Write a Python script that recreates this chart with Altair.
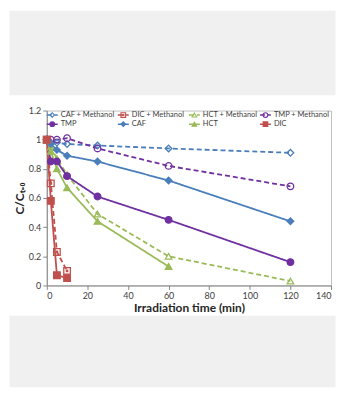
import altair as alt
import pandas as pd

# ---- data ----
times = [0, 2, 5, 10, 25, 60, 120]
times_dic = [0, 2, 5, 10]
times_hct = [0, 2, 5, 10, 25, 60]

caf_methanol = [1.0, 0.98, 0.98, 0.97, 0.96, 0.94, 0.91]
dic_methanol = [1.0, 0.70, 0.23, 0.10]
hct_methanol = [1.0, 0.95, 0.87, 0.76, 0.49, 0.20, 0.03]
tmp_methanol = [1.0, 1.0, 1.0, 1.01, 0.94, 0.82, 0.68]
tmp = [1.0, 0.85, 0.85, 0.75, 0.61, 0.45, 0.16]
caf = [1.0, 0.97, 0.93, 0.89, 0.85, 0.72, 0.44]
hct = [1.0, 0.92, 0.80, 0.67, 0.44, 0.13]
dic = [1.0, 0.58, 0.07, 0.05]

series_names = ["CAF + Methanol", "DIC + Methanol", "HCT + Methanol", "TMP + Methanol",
                "TMP", "CAF", "HCT", "DIC"]
series_colors = ["#4A7EBB", "#C0504D", "#9BBB59", "#7030A0",
                 "#7030A0", "#4A7EBB", "#9BBB59", "#C0504D"]
sq_dot = "M-1,-1H1V1H-1Z M-0.2,-0.2H0.2V0.2H-0.2Z"
series_shapes = ["diamond", sq_dot, "triangle-up", "circle",
                 "circle", "diamond", "triangle-up", "square"]
series_fills = ["transparent", "transparent", "transparent", "transparent",
                "#7030A0", "#4A7EBB", "#9BBB59", "#C0504D"]
series_dash = [[5, 3], [5, 3], [5, 3], [5, 3], [1, 0], [1, 0], [1, 0], [1, 0]]
legend_col = [0, 1, 2, 3, 0, 1, 2, 3]
legend_row = [0, 0, 0, 0, 1, 1, 1, 1]
x_ticks = [0, 20, 40, 60, 80, 100, 120, 140]
y_ticks = [0, 0.2, 0.4, 0.6, 0.8, 1.0, 1.2]

series_data = [
    ("CAF + Methanol", times, caf_methanol),
    ("DIC + Methanol", times_dic, dic_methanol),
    ("HCT + Methanol", times, hct_methanol),
    ("TMP + Methanol", times, tmp_methanol),
    ("TMP", times, tmp),
    ("CAF", times, caf),
    ("HCT", times_hct, hct),
    ("DIC", times_dic, dic),
]

rows = []
for name, ts, vs in series_data:
    for t, v in zip(ts, vs):
        rows.append({"series": name, "t": t, "v": v})
df = pd.DataFrame(rows)

legend_df = pd.DataFrame({"series": series_names, "col": legend_col, "row": legend_row})

FONT = "Lato"

color_enc = alt.Color("series:N", scale=alt.Scale(domain=series_names, range=series_colors), legend=None)
dash_enc = alt.StrokeDash("series:N", scale=alt.Scale(domain=series_names, range=series_dash), legend=None)
shape_enc = alt.Shape("series:N", scale=alt.Scale(domain=series_names, range=series_shapes), legend=None)
fill_enc = alt.Fill("series:N", scale=alt.Scale(domain=series_names, range=series_fills), legend=None)

x_scale = alt.Scale(domain=[0, 140], nice=False, zero=False)
y_scale = alt.Scale(domain=[0, 1.2], nice=False)


def x_enc():
    return alt.X("t:Q", scale=x_scale,
                 axis=alt.Axis(values=x_ticks, title="Irradiation time (min)", labelOverlap=False))


def y_enc():
    return alt.Y("v:Q", scale=y_scale,
                 axis=alt.Axis(values=y_ticks, format=".1~f", title="C/Cₜ₌₀",
                               labelOverlap=False, labelSeparation=0))


base = alt.Chart(df)

lines = base.mark_line(strokeWidth=1.8).encode(
    x=x_enc(), y=y_enc(),
    color=color_enc,
    strokeDash=dash_enc,
    detail="series:N",
)

points = base.mark_point(size=44, strokeWidth=1.3, opacity=1).encode(
    x=x_enc(), y=y_enc(),
    color=color_enc,
    shape=shape_enc,
    fill=fill_enc,
)

plot = alt.layer(lines, points)

lx = alt.Scale(domain=[0, 4])
ly = alt.Scale(domain=[0, 19], reverse=True)
lbase = alt.Chart(legend_df)
leg_rules = lbase.mark_rule(strokeWidth=1.6, x2Offset=11, yOffset=4.5).encode(
    x=alt.X("col:Q", scale=lx, axis=None),
    x2="col:Q",
    y=alt.Y("row:Q", scale=ly, axis=None),
    color=color_enc,
    strokeDash=dash_enc,
)
leg_points = lbase.mark_point(size=22, strokeWidth=1.1, opacity=1, xOffset=5.5, yOffset=4.5).encode(
    x=alt.X("col:Q", scale=lx, axis=None),
    y=alt.Y("row:Q", scale=ly, axis=None),
    color=color_enc,
    shape=shape_enc,
    fill=fill_enc,
)
leg_text = lbase.mark_text(align="left", baseline="middle", dx=14, yOffset=4.5,
                           fontSize=7.5, font=FONT, color="#404040").encode(
    x=alt.X("col:Q", scale=lx, axis=None),
    y=alt.Y("row:Q", scale=ly, axis=None),
    text="series:N",
)
legend = alt.layer(leg_rules, leg_points, leg_text)

main = alt.layer(plot, legend).resolve_scale(x="independent", y="independent").properties(
    width=286, height=176,
    title=alt.TitleParams(" ", fontSize=8, offset=2),
    view=alt.ViewBackground(fill="white", stroke="#BFBFBF", strokeWidth=1),
)

dummy = pd.DataFrame({"z": [0]})


def blank(w, h, fill):
    return alt.Chart(dummy).mark_point(opacity=0, size=0).encode(
        x=alt.value(w / 2), y=alt.value(h / 2)
    ).properties(width=w, height=h, view=alt.ViewBackground(fill=fill, stroke="transparent"))


top = blank(328, 85, "#F0F0F0")
spacer = blank(2, 176, "white")
bottom = blank(328, 72, "#F0F0F0")

middle = alt.hconcat(spacer, main, spacing=0)

chart = alt.vconcat(top, middle, bottom, spacing=0).properties(
    padding=0, background="white"
).configure_axis(
    labelFont=FONT, labelFontSize=9, labelColor="#404040",
    titleFont=FONT, titleFontSize=12, titleFontWeight="bold", titleColor="#262626",
    domainColor="#868686", tickColor="#868686", tickSize=4, grid=False,
    labelPadding=2, titlePadding=2, labelOverlap=False, minExtent=0,
).configure_title(font=FONT)

chart.save("out.html", embed_options={"renderer": "svg", "actions": False})
